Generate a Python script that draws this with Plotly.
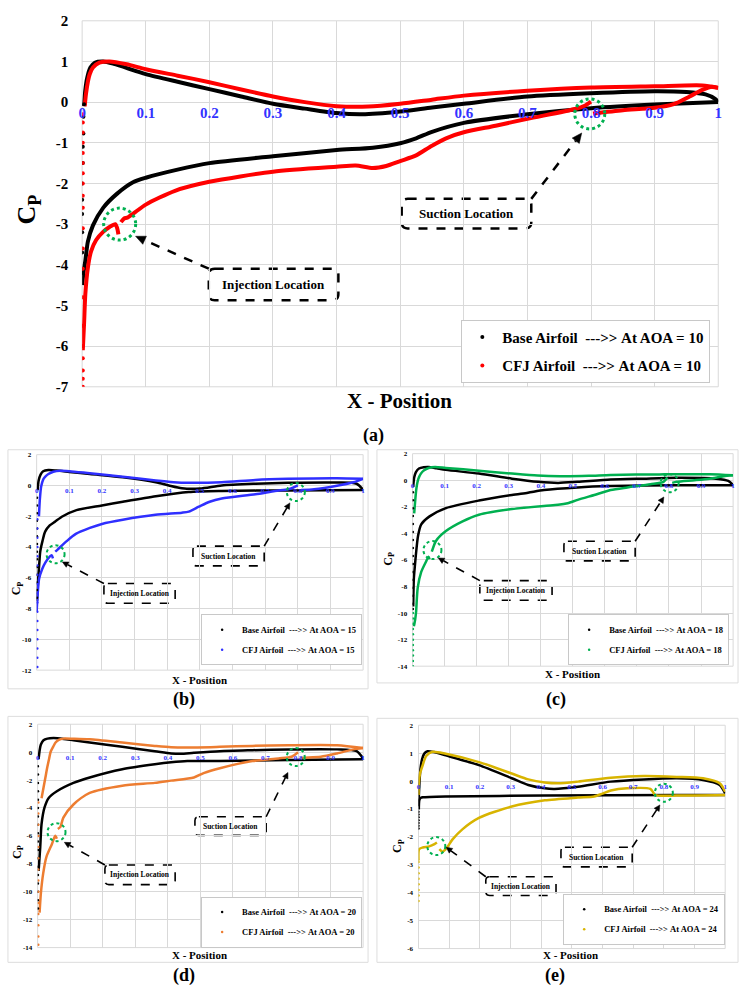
import math
import plotly.graph_objects as go

W, H = 746, 991
FONT = "Liberation Serif, Times New Roman, serif"

# ------------------------------------------------------------------ data
# Panel (a)  AOA = 10
A_BASE_P_X = [0.003, 0.005, 0.008, 0.013, 0.02, 0.033, 0.05, 0.1, 0.15, 0.2, 0.25, 0.3, 0.35, 0.4, 0.44, 0.5, 0.55, 0.6, 0.7, 0.8, 0.9, 0.95, 0.98, 0.995, 1.0]
A_BASE_P_CP = [-0.1, 0.3, 0.6, 0.85, 0.97, 1.0, 0.94, 0.69, 0.5, 0.32, 0.14, -0.04, -0.16, -0.27, -0.3, -0.23, -0.13, -0.04, 0.14, 0.22, 0.27, 0.25, 0.19, 0.08, 0.0]
A_BASE_S_X = [0.0, 0.002, 0.005, 0.009, 0.017, 0.033, 0.055, 0.08, 0.1, 0.15, 0.2, 0.3, 0.4, 0.457, 0.5, 0.525, 0.55, 0.6, 0.7, 0.8, 0.9, 1.0]
A_BASE_S_CP = [-4.5, -4.2, -3.9, -3.43, -3.03, -2.6, -2.25, -1.97, -1.86, -1.66, -1.5, -1.33, -1.18, -1.12, -1.01, -0.89, -0.73, -0.51, -0.3, -0.15, -0.06, 0.0]
A_BASE_LE_X = [0.003, 0.002, 0.002, 0.001, 0.001, 0.0, 0.0, 0.0, 0.0, 0.0, 0.0]
A_BASE_LE_CP = [-0.05, -0.36, -0.77, -1.1, -1.5, -2.0, -2.4, -2.75, -3.2, -3.7, -4.2]

A_CFJ_P_X = [0.004, 0.006, 0.009, 0.012, 0.017, 0.027, 0.043, 0.07, 0.1, 0.15, 0.2, 0.25, 0.3, 0.35, 0.4, 0.45, 0.5, 0.55, 0.6, 0.7, 0.8, 0.9, 0.975, 1.0]
A_CFJ_P_CP = [-0.1, 0.2, 0.5, 0.69, 0.85, 0.97, 1.0, 0.93, 0.81, 0.65, 0.49, 0.31, 0.14, 0.0, -0.1, -0.11, -0.04, 0.06, 0.16, 0.28, 0.36, 0.39, 0.41, 0.35]
A_CFJ_S1_X = [0.001, 0.003, 0.005, 0.009, 0.014, 0.022, 0.033, 0.043, 0.052, 0.055, 0.057]
A_CFJ_S1_CP = [-6.1, -5.45, -4.72, -4.07, -3.67, -3.39, -3.19, -3.07, -3.0, -3.1, -3.25]
A_CFJ_S2_X = [0.061, 0.066, 0.071, 0.084, 0.1, 0.146, 0.2, 0.3, 0.4, 0.43, 0.457, 0.478, 0.5, 0.525, 0.55, 0.577, 0.6, 0.65, 0.7, 0.775, 0.79, 0.8]
A_CFJ_S2_CP = [-2.95, -2.86, -2.84, -2.7, -2.52, -2.18, -1.96, -1.71, -1.59, -1.56, -1.62, -1.57, -1.45, -1.31, -1.07, -0.86, -0.74, -0.58, -0.41, -0.17, -0.09, 0.01]
A_CFJ_S3_X = [0.803, 0.85, 0.9, 0.93, 0.955, 0.975, 0.99, 1.0]
A_CFJ_S3_CP = [-0.28, -0.2, -0.14, -0.05, 0.14, 0.3, 0.38, 0.35]
A_CFJ_LE_X = [0.001] * 20
A_CFJ_LE_CP = [-0.3, -0.5, -0.75, -1.0, -1.25, -1.5, -1.75, -2.0, -2.3, -2.6, -3.1, -3.6, -4.1, -4.8, -5.5, -6.0, -6.3, -6.6, -6.8, -7.0]

# Panel (b)  AOA = 15
B_BASE_P_X = [0.003, 0.006, 0.012, 0.02, 0.036, 0.06, 0.1, 0.163, 0.264, 0.365, 0.405, 0.445, 0.5, 0.567, 0.67, 0.77, 0.92, 0.98, 1.0]
B_BASE_P_CP = [-0.3, 0.3, 0.7, 0.92, 1.0, 0.97, 0.88, 0.74, 0.53, 0.21, 0.0, -0.18, -0.2, 0.0, 0.11, 0.17, 0.19, 0.11, -0.28]
B_BASE_S_X = [0.001, 0.004, 0.008, 0.011, 0.018, 0.026, 0.04, 0.057, 0.08, 0.122, 0.2, 0.264, 0.365, 0.466, 0.567, 0.77, 1.0]
B_BASE_S_CP = [-7.5, -6.3, -5.1, -4.3, -3.6, -3.0, -2.6, -2.34, -2.0, -1.6, -1.3, -1.06, -0.7, -0.43, -0.36, -0.32, -0.3]
B_BASE_LE_X = [0.001] * 14
B_BASE_LE_CP = [-0.8, -1.3, -1.8, -2.3, -2.8, -3.3, -3.8, -4.3, -4.8, -5.3, -5.8, -6.3, -6.8, -7.3]

B_CFJ_P_X = [0.007, 0.009, 0.011, 0.0135, 0.017, 0.021, 0.028, 0.036, 0.051, 0.072, 0.1, 0.163, 0.264, 0.365, 0.42, 0.466, 0.567, 0.67, 0.77, 0.92, 1.0]
B_CFJ_P_CP = [-2.0, -1.17, -0.6, -0.11, 0.2, 0.43, 0.6, 0.74, 0.89, 0.96, 0.93, 0.79, 0.57, 0.32, 0.21, 0.17, 0.21, 0.36, 0.43, 0.47, 0.43]
B_CFJ_S1_X = [0.0, 0.003, 0.0075, 0.017, 0.027, 0.04, 0.046, 0.05]
B_CFJ_S1_CP = [-8.2, -7.1, -6.06, -5.43, -5.0, -4.62, -4.53, -4.74]
B_CFJ_S2_X = [0.057, 0.065, 0.092, 0.12, 0.163, 0.2, 0.264, 0.364, 0.445, 0.466, 0.497, 0.53, 0.567, 0.67, 0.73, 0.77, 0.785, 0.8]
B_CFJ_S2_CP = [-4.3, -4.15, -3.62, -3.15, -2.76, -2.5, -2.23, -1.91, -1.77, -1.7, -1.38, -1.06, -0.85, -0.57, -0.36, -0.25, -0.15, 0.0]
B_CFJ_S3_X = [0.81, 0.85, 0.92, 0.97, 1.0]
B_CFJ_S3_CP = [-0.3, -0.25, -0.02, 0.21, 0.43]
B_CFJ_LE_X = [0.002] * 17
B_CFJ_LE_CP = [-2.2, -2.8, -3.4, -4.0, -4.6, -5.2, -5.8, -6.4, -7.0, -7.6, -8.2, -8.8, -9.4, -10.0, -10.6, -11.2, -11.8]

# Panel (c)  AOA = 18
C_BASE_P_X = [0.002, 0.005, 0.01, 0.02, 0.035, 0.05, 0.075, 0.104, 0.207, 0.31, 0.392, 0.454, 0.515, 0.618, 0.72, 0.824, 0.947, 0.985, 1.0]
C_BASE_P_CP = [-0.5, 0.2, 0.6, 0.88, 0.98, 1.0, 0.9, 0.78, 0.5, 0.12, -0.12, -0.2, -0.12, 0.05, 0.12, 0.18, 0.12, -0.05, -0.37]
C_BASE_S_X = [0.002, 0.004, 0.007, 0.01, 0.017, 0.027, 0.053, 0.104, 0.207, 0.31, 0.36, 0.41, 0.515, 0.618, 0.824, 1.0]
C_BASE_S_CP = [-9.5, -7.4, -6.5, -5.7, -4.2, -3.33, -2.72, -2.1, -1.53, -1.11, -0.94, -0.74, -0.54, -0.44, -0.37, -0.37]
C_BASE_LE_X = [0.001] * 16
C_BASE_LE_CP = [-0.9, -1.5, -2.1, -2.7, -3.3, -3.9, -4.5, -5.1, -5.7, -6.3, -6.9, -7.5, -8.1, -8.7, -9.3, -9.7]

C_CFJ_P_X = [0.005, 0.008, 0.012, 0.018, 0.026, 0.036, 0.05, 0.07, 0.104, 0.207, 0.31, 0.39, 0.46, 0.55, 0.618, 0.77, 0.927, 1.0]
C_CFJ_P_CP = [-2.5, -1.6, -0.6, 0.1, 0.5, 0.75, 0.92, 1.0, 0.93, 0.72, 0.5, 0.35, 0.3, 0.33, 0.4, 0.44, 0.45, 0.37]
C_CFJ_S1_X = [0.004, 0.008, 0.011, 0.016, 0.027, 0.041, 0.05, 0.053]
C_CFJ_S1_CP = [-11.0, -10.5, -9.9, -8.1, -6.9, -6.17, -5.75, -5.95]
C_CFJ_S2_X = [0.06, 0.073, 0.104, 0.156, 0.207, 0.31, 0.41, 0.454, 0.484, 0.515, 0.567, 0.618, 0.67, 0.742, 0.783, 0.795]
C_CFJ_S2_CP = [-5.38, -4.57, -3.83, -3.1, -2.6, -2.17, -1.93, -1.85, -1.73, -1.48, -1.11, -0.74, -0.54, -0.3, -0.12, 0.2]
C_CFJ_S3_X = [0.81, 0.824, 0.88, 0.927, 0.97, 1.0]
C_CFJ_S3_CP = [-0.2, -0.12, 0.0, 0.12, 0.3, 0.37]
C_CFJ_LE_X = [0.001] * 11
C_CFJ_LE_CP = [-10.0, -10.4, -10.8, -11.2, -11.6, -12.0, -12.4, -12.8, -13.2, -13.6, -14.0]

# Panel (d)  AOA = 20
D_BASE_P_X = [0.003, 0.006, 0.01, 0.018, 0.03, 0.049, 0.08, 0.11, 0.16, 0.26, 0.36, 0.41, 0.44, 0.48, 0.56, 0.66, 0.77, 0.92, 0.98, 1.0]
D_BASE_P_CP = [-0.5, 0.1, 0.55, 0.85, 0.97, 1.01, 0.95, 0.85, 0.69, 0.38, 0.07, -0.09, -0.12, -0.05, 0.07, 0.14, 0.2, 0.2, 0.07, -0.45]
D_BASE_S_X = [0.003, 0.008, 0.012, 0.021, 0.034, 0.059, 0.11, 0.16, 0.26, 0.36, 0.41, 0.46, 0.56, 0.77, 1.0]
D_BASE_S_CP = [-8.5, -6.8, -5.16, -3.98, -3.28, -2.8, -2.2, -1.81, -1.22, -0.87, -0.73, -0.64, -0.64, -0.57, -0.5]
D_BASE_LE_X = [0.001] * 18
D_BASE_LE_CP = [-1.0, -1.6, -2.2, -2.8, -3.4, -4.0, -4.6, -5.2, -5.8, -6.4, -7.0, -7.6, -8.2, -8.8, -9.4, -10.0, -10.6, -11.2]

D_CFJ_P_X = [0.012, 0.018, 0.024, 0.029, 0.035, 0.04, 0.048, 0.055, 0.065, 0.079, 0.11, 0.16, 0.26, 0.36, 0.41, 0.46, 0.56, 0.66, 0.77, 0.92, 1.0]
D_CFJ_P_CP = [-3.3, -2.55, -1.8, -1.15, -0.5, 0.03, 0.4, 0.69, 0.88, 0.97, 0.96, 0.92, 0.69, 0.45, 0.35, 0.33, 0.38, 0.45, 0.5, 0.5, 0.3]
D_CFJ_S1_X = [0.006, 0.01, 0.017, 0.027, 0.044, 0.054, 0.059]
D_CFJ_S1_CP = [-11.5, -10.1, -8.7, -7.5, -6.58, -5.99, -6.2]
D_CFJ_S2_X = [0.062, 0.07, 0.079, 0.11, 0.16, 0.26, 0.36, 0.41, 0.48, 0.51, 0.56, 0.66, 0.74, 0.78, 0.8]
D_CFJ_S2_CP = [-5.5, -5.35, -4.69, -3.75, -2.92, -2.4, -2.2, -2.04, -1.81, -1.5, -1.15, -0.64, -0.45, -0.33, 0.0]
D_CFJ_S3_X = [0.81, 0.82, 0.87, 0.92, 0.97, 1.0]
D_CFJ_S3_CP = [-0.42, -0.4, -0.33, -0.09, 0.2, 0.3]
D_CFJ_LE_X = [0.002] * 14
D_CFJ_LE_CP = [-3.6, -4.4, -5.2, -6.0, -6.8, -7.6, -8.4, -9.2, -10.0, -10.8, -11.6, -12.4, -13.2, -13.8]

# Panel (e)  AOA = 24
E_BASE_P_X = [0.0, 0.002, 0.006, 0.012, 0.02, 0.03, 0.05, 0.089, 0.197, 0.304, 0.358, 0.412, 0.444, 0.52, 0.627, 0.735, 0.842, 0.928, 0.982, 1.0]
E_BASE_P_CP = [-0.9, -0.3, 0.4, 0.8, 1.0, 1.07, 1.04, 0.92, 0.57, 0.1, -0.14, -0.26, -0.28, -0.2, -0.02, 0.06, 0.1, 0.04, -0.14, -0.44]
E_BASE_S_X = [0.001, 0.003, 0.008, 0.014, 0.089, 0.412, 0.842, 1.0]
E_BASE_S_CP = [-1.02, -0.67, -0.6, -0.58, -0.55, -0.52, -0.5, -0.5]
E_BASE_LE_X = [0.0] * 7
E_BASE_LE_CP = [-1.1, -1.2, -1.3, -1.4, -1.5, -1.6, -1.7]

E_CFJ_P_X = [0.0, 0.001, 0.005, 0.014, 0.025, 0.046, 0.089, 0.197, 0.304, 0.358, 0.412, 0.455, 0.52, 0.627, 0.735, 0.842, 0.928, 0.982, 1.0]
E_CFJ_P_CP = [-0.5, -0.08, 0.27, 0.58, 0.9, 1.05, 0.98, 0.68, 0.27, 0.06, -0.05, -0.08, -0.02, 0.12, 0.18, 0.15, 0.1, -0.08, -0.38]
E_CFJ_S1_X = [0.0, 0.002, 0.014, 0.035, 0.052, 0.06]
E_CFJ_S1_CP = [-2.85, -2.44, -2.38, -2.34, -2.26, -2.2]
E_CFJ_S2_X = [0.068, 0.078, 0.089, 0.111, 0.143, 0.197, 0.304, 0.412, 0.52, 0.573, 0.6, 0.627, 0.68, 0.756, 0.765, 0.772, 0.842, 1.0]
E_CFJ_S2_CP = [-2.44, -2.53, -2.44, -2.09, -1.73, -1.32, -0.91, -0.69, -0.59, -0.55, -0.45, -0.34, -0.26, -0.28, -0.4, -0.5, -0.52, -0.5]
E_CFJ_LE_X = [0.0] * 8
E_CFJ_LE_CP = [-2.9, -3.1, -3.3, -3.5, -3.7, -3.9, -4.1, -4.3]

X_TICKS = [0, 0.1, 0.2, 0.3, 0.4, 0.5, 0.6, 0.7, 0.8, 0.9, 1]
X_TICK_TEXT = ["0", "0.1", "0.2", "0.3", "0.4", "0.5", "0.6", "0.7", "0.8", "0.9", "1"]
Y_TICKS_A = [2, 1, 0, -1, -2, -3, -4, -5, -6, -7]
Y_TICKS_B = [2, 0, -2, -4, -6, -8, -10, -12]
Y_TICKS_C = [2, 0, -2, -4, -6, -8, -10, -12, -14]
Y_TICKS_D = [2, 0, -2, -4, -6, -8, -10, -12, -14]
Y_TICKS_E = [2, 1, 0, -1, -2, -3, -4, -5, -6]

AOA = {"a": 10, "b": 15, "c": 18, "d": 20, "e": 24}

# ------------------------------------------------------------------ helpers
def PX(x):
    return x / W


def PY(y):
    return 1 - y / H


def join(*segs):
    xs, ys = [], []
    for i, (sx, sy) in enumerate(segs):
        if i:
            xs.append(None)
            ys.append(None)
        xs += list(sx)
        ys += list(sy)
    return xs, ys


GRID = "#d9d9d9"
TICKBLUE = "#3333ff"

# panel geometry (pixels) and style
PANELS = {
    "a": dict(xa="x", ya="y", xd=(79, 722), yd=(13, 385), yr=(-7, 2), yt=Y_TICKS_A, tf=15, lw=4, ms=4,
              cfj="#ff0000", leg="legend", legbox=(714, 381), legfs=15, gap=6,
              cp=(24, 205, 26), xt=(400, 399, 21), lab=(373, 435, 18),
              inj=(207, 265, 338, 297), inj_to=(133, 232), suc=(402, 194, 533, 224), suc_to=(584, 127),
              inj_c=(0.059, -3.0, 16), suc_c=(0.798, -0.29, 15), cfs=13, dw=2.5, r=6),
    "b": dict(xa="x2", ya="y2", xd=(33, 363), yd=(454, 673), yr=(-12, 2), yt=Y_TICKS_B, tf=7, lw=2.5, ms=2.5,
              cfj="#2f2fff", leg="legend2", legbox=(362, 668), legfs=8.5, gap=1,
              cp=(14, 590, 12), xt=(198, 683, 11), lab=(182, 703, 18),
              inj=(101, 585, 173, 605), inj_to=(59, 563), suc=(191, 547, 263, 567), suc_to=(289, 503),
              inj_c=(0.058, -4.47, 9), suc_c=(0.794, -0.43, 9), cfs=7.5, dw=1.6, r=4),
    "c": dict(xa="x3", ya="y3", xd=(413, 737), yd=(453, 669), yr=(-14, 2), yt=Y_TICKS_C, tf=7, lw=2.5, ms=2.5,
              cfj="#00b050", leg="legend3", legbox=(733, 668), legfs=8.5, gap=1,
              cp=(389, 560, 12), xt=(575, 677, 11), lab=(558, 703, 18),
              inj=(481, 582, 554, 602), inj_to=(439, 559), suc=(566, 542, 638, 562), suc_to=(667, 497),
              inj_c=(0.062, -5.26, 9), suc_c=(0.802, -0.22, 9), cfs=7.5, dw=1.6, r=4),
    "d": dict(xa="x4", ya="y4", xd=(34, 363), yd=(728, 955), yr=(-14, 2), yt=Y_TICKS_D, tf=7, lw=2.5, ms=2.5,
              cfj="#ed7d31", leg="legend4", legbox=(362, 955), legfs=8.5, gap=1,
              cp=(14, 858, 12), xt=(198, 963, 11), lab=(182, 983, 18),
              inj=(102, 871, 173, 891), inj_to=(61, 848), suc=(193, 822, 265, 841), suc_to=(287, 777),
              inj_c=(0.058, -5.73, 9), suc_c=(0.793, -0.35, 9), cfs=7.5, dw=1.6, r=4),
    "e": dict(xa="x5", ya="y5", xd=(419, 729), yd=(729, 956), yr=(-6, 2), yt=Y_TICKS_E, tf=7, lw=2.5, ms=2.5,
              cfj="#d8b400", leg="legend5", legbox=(729, 952), legfs=8.5, gap=1,
              cp=(399, 852, 12), xt=(573, 963, 11), lab=(557, 983, 18),
              inj=(487, 883, 558, 902), inj_to=(447, 853), suc=(563, 853, 635, 873), suc_to=(663, 810),
              inj_c=(0.058, -2.33, 9), suc_c=(0.8, -0.42, 9), cfs=7.5, dw=1.6, r=4),
}

SERIES = {
    "a": dict(base=[(A_BASE_P_X, A_BASE_P_CP), (A_BASE_S_X, A_BASE_S_CP)], base_le=(A_BASE_LE_X, A_BASE_LE_CP),
              cfj=[(A_CFJ_P_X, A_CFJ_P_CP), (A_CFJ_S1_X, A_CFJ_S1_CP), (A_CFJ_S2_X, A_CFJ_S2_CP), (A_CFJ_S3_X, A_CFJ_S3_CP)],
              cfj_le=(A_CFJ_LE_X, A_CFJ_LE_CP)),
    "b": dict(base=[(B_BASE_P_X, B_BASE_P_CP), (B_BASE_S_X, B_BASE_S_CP)], base_le=(B_BASE_LE_X, B_BASE_LE_CP),
              cfj=[(B_CFJ_P_X, B_CFJ_P_CP), (B_CFJ_S1_X, B_CFJ_S1_CP), (B_CFJ_S2_X, B_CFJ_S2_CP), (B_CFJ_S3_X, B_CFJ_S3_CP)],
              cfj_le=(B_CFJ_LE_X, B_CFJ_LE_CP)),
    "c": dict(base=[(C_BASE_P_X, C_BASE_P_CP), (C_BASE_S_X, C_BASE_S_CP)], base_le=(C_BASE_LE_X, C_BASE_LE_CP),
              cfj=[(C_CFJ_P_X, C_CFJ_P_CP), (C_CFJ_S1_X, C_CFJ_S1_CP), (C_CFJ_S2_X, C_CFJ_S2_CP), (C_CFJ_S3_X, C_CFJ_S3_CP)],
              cfj_le=(C_CFJ_LE_X, C_CFJ_LE_CP)),
    "d": dict(base=[(D_BASE_P_X, D_BASE_P_CP), (D_BASE_S_X, D_BASE_S_CP)], base_le=(D_BASE_LE_X, D_BASE_LE_CP),
              cfj=[(D_CFJ_P_X, D_CFJ_P_CP), (D_CFJ_S1_X, D_CFJ_S1_CP), (D_CFJ_S2_X, D_CFJ_S2_CP), (D_CFJ_S3_X, D_CFJ_S3_CP)],
              cfj_le=(D_CFJ_LE_X, D_CFJ_LE_CP)),
    "e": dict(base=[(E_BASE_P_X, E_BASE_P_CP), (E_BASE_S_X, E_BASE_S_CP)], base_le=(E_BASE_LE_X, E_BASE_LE_CP),
              cfj=[(E_CFJ_P_X, E_CFJ_P_CP), (E_CFJ_S1_X, E_CFJ_S1_CP), (E_CFJ_S2_X, E_CFJ_S2_CP)],
              cfj_le=(E_CFJ_LE_X, E_CFJ_LE_CP)),
}

OUTER_FRAMES = [(4, 449, 368, 692), (377, 449, 742, 686), (4, 720, 368, 970), (377, 722, 742, 970)]

fig = go.Figure()
shapes, annotations = [], []
layout = dict(width=W, height=H, margin=dict(l=0, r=0, t=0, b=0), paper_bgcolor="white",
              plot_bgcolor="white", showlegend=True, font=dict(family=FONT))


def P(x, y):
    return f"{PX(x):.5f},{PY(y):.5f}"


def rrect_path(x0, y0, x1, y1, r):
    return (f"M{P(x0 + r, y0)} L{P(x1 - r, y0)} Q{P(x1, y0)} {P(x1, y0 + r)} "
            f"L{P(x1, y1 - r)} Q{P(x1, y1)} {P(x1 - r, y1)} L{P(x0 + r, y1)} "
            f"Q{P(x0, y1)} {P(x0, y1 - r)} L{P(x0, y0 + r)} Q{P(x0, y0)} {P(x0 + r, y0)} Z")


def text(x, y, t, size, angle=0, color="black"):
    annotations.append(dict(x=PX(x), y=PY(y), xref="paper", yref="paper", text=t, showarrow=False,
                            font=dict(family=FONT, size=size, color=color, weight="bold"),
                            textangle=angle, xanchor="center", yanchor="middle"))


def callout(box, tail, head, label, fs, dw, r):
    x0, y0, x1, y1 = box
    shapes.append(dict(type="path", path=rrect_path(x0, y0, x1, y1, r), xref="paper", yref="paper",
                       line=dict(color="black", width=dw, dash="dash"), fillcolor="white", layer="below"))
    text((x0 + x1) / 2, (y0 + y1) / 2, label, fs)
    tx, ty = tail
    hx, hy = head
    L = math.hypot(hx - tx, hy - ty)
    ux, uy = (hx - tx) / L, (hy - ty) / L
    hl = 10 if dw > 2 else 6
    hw = 4.5 if dw > 2 else 3
    bx, by = hx - ux * hl, hy - uy * hl
    shapes.append(dict(type="line", xref="paper", yref="paper", x0=PX(tx), y0=PY(ty),
                       x1=PX(bx), y1=PY(by), line=dict(color="black", width=dw, dash="dash")))
    nx, ny = -uy, ux
    tri = f"M{P(hx, hy)} L{P(bx + nx * hw, by + ny * hw)} L{P(bx - nx * hw, by - ny * hw)} Z"
    shapes.append(dict(type="path", path=tri, xref="paper", yref="paper", fillcolor="black",
                       line=dict(color="black", width=0.5)))


for k, p in PANELS.items():
    s = SERIES[k]
    xa, ya = p["xa"], p["ya"]
    bx, by = join(*s["base"])
    fig.add_trace(go.Scatter(x=bx, y=by, mode="lines", xaxis=xa, yaxis=ya, showlegend=False,
                             line=dict(color="black", width=p["lw"], shape="spline", smoothing=0.7),
                             hoverinfo="skip"))
    cx, cy = join(*s["cfj"])
    fig.add_trace(go.Scatter(x=cx, y=cy, mode="lines", xaxis=xa, yaxis=ya, showlegend=False,
                             line=dict(color=p["cfj"], width=p["lw"], shape="spline", smoothing=0.7),
                             hoverinfo="skip"))
    sp = "\u00a0"
    fig.add_trace(go.Scatter(x=s["base_le"][0], y=s["base_le"][1], mode="markers", xaxis=xa, yaxis=ya,
                             marker=dict(color="black", size=p["ms"]), legend=p["leg"], legendgroup=k + "b",
                             name=f"Base Airfoil{sp*2}--->>{sp}At AOA = {AOA[k]}"))
    fig.add_trace(go.Scatter(x=s["cfj_le"][0], y=s["cfj_le"][1], mode="markers", xaxis=xa, yaxis=ya,
                             marker=dict(color=p["cfj"], size=p["ms"]), legend=p["leg"], legendgroup=k + "c",
                             name=f"CFJ Airfoil{sp*2}--->>{sp}At AOA = {AOA[k]}"))

    xname = "xaxis" + xa[1:]
    yname = "yaxis" + ya[1:]
    y0p, y1p = p["yd"]
    zero_py = y0p + (p["yr"][1] - 0) / (p["yr"][1] - p["yr"][0]) * (y1p - y0p)
    layout[xname] = dict(domain=[PX(p["xd"][0]), PX(p["xd"][1])], range=[0, 1], anchor="free",
                         position=PY(zero_py), tickvals=X_TICKS, ticktext=X_TICK_TEXT,
                         tickfont=dict(family=FONT, size=p["tf"], color=TICKBLUE, weight="bold"),
                         showgrid=True, gridcolor=GRID, gridwidth=1, zeroline=False, showline=False,
                         ticks="")
    layout[yname] = dict(domain=[PY(y1p), PY(y0p)], range=list(p["yr"]), anchor=xa,
                         tickvals=p["yt"], ticktext=[str(v) for v in p["yt"]],
                         tickfont=dict(family=FONT, size=p["tf"] if k == "a" else 7, color="black", weight="bold"),
                         showgrid=True, gridcolor=GRID, gridwidth=1, zeroline=False, showline=False,
                         ticks="outside", ticklen=10 if k == "a" else 3, tickcolor="rgba(0,0,0,0)")
    shapes.append(dict(type="rect", xref=xa + " domain", yref=ya + " domain", x0=0, x1=1, y0=0, y1=1,
                       line=dict(color=GRID, width=1), layer="below"))
    lx, ly = p["legbox"]
    layout[p["leg"]] = dict(x=PX(lx), y=PY(ly), xanchor="right", yanchor="bottom", bgcolor="white",
                            bordercolor="#c8c8c8", borderwidth=1, traceorder="grouped",
                            tracegroupgap=p["gap"],
                            font=dict(family=FONT, size=p["legfs"], color="black", weight="bold"),
                            itemsizing="trace", itemwidth=30)
    cxp, cyp, cfs = p["cp"]
    text(cxp, cyp, "C<sub>P</sub>", cfs, angle=-90)
    text(p["xt"][0], p["xt"][1], "X - Position", p["xt"][2])
    text(p["lab"][0], p["lab"][1], f"({k})", p["lab"][2])
    for (gx, gy, gr) in (p["inj_c"], p["suc_c"]):
        shapes.append(dict(type="circle", xref=xa, yref=ya, xsizemode="pixel", ysizemode="pixel",
                           xanchor=gx, yanchor=gy, x0=-gr, x1=gr, y0=-gr, y1=gr,
                           line=dict(color="#00b050", width=3 if k == "a" else 2, dash="dot")))
    ib = p["inj"]
    callout(ib, (ib[0], ib[1]), p["inj_to"], "Injection Location", p["cfs"], p["dw"], p["r"])
    sb = p["suc"]
    callout(sb, (sb[2], sb[1]), p["suc_to"], "Suction Location", p["cfs"], p["dw"], p["r"])

for (x0, y0, x1, y1) in OUTER_FRAMES:
    shapes.append(dict(type="rect", xref="paper", yref="paper", x0=PX(x0), x1=PX(x1), y0=PY(y1), y1=PY(y0),
                       line=dict(color="#dddddd", width=1), layer="below"))

layout["shapes"] = shapes
layout["annotations"] = annotations
fig.update_layout(**layout)
fig.write_html("out.html")
